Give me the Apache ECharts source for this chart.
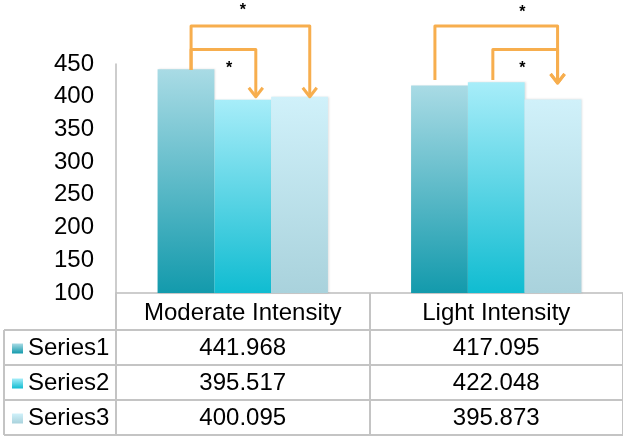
<!DOCTYPE html>
<html>
<head>
<meta charset="utf-8">
<script src="https://cdn.jsdelivr.net/npm/echarts@6/dist/echarts.min.js"></script>
<style>
  html, body { margin: 0; padding: 0; background: #ffffff; }
  #chart { width: 623px; height: 436px; }
</style>
</head>
<body>
<div id="chart"></div>
<script>
// ---- data ----
const categories = ['Moderate Intensity', 'Light Intensity'];
const seriesNames = ['Series1', 'Series2', 'Series3'];
const series1 = [441.968, 417.095];
const series2 = [395.517, 422.048];
const series3 = [400.095, 395.873];
const yMin = 100;
const yMax = 450;
const yStep = 50;

// significance brackets: [category, from slot, to slot, bracket level, start level, arrow tip level]
// slots are counted in bar widths from the left edge of a category's bar group
const brackets = [
  [0, 0.59, 2.68, 508, 441, 400],
  [0, 0.59, 1.73, 472, 441, 400],
  [1, 0.42, 2.58, 508, 425.5, 421],
  [1, 1.44, 2.58, 472, 425.5, 421]
];
// asterisks: [category, slot, level]
const stars = [
  [0, 1.50, 532],
  [0, 1.26, 443],
  [1, 1.96, 528],
  [1, 1.96, 443]
];

// ---- styling ----
const FONT = '"Liberation Sans", Arial, Helvetica, sans-serif';
const BAR_FRAC = 0.224;
const ORANGE = '#F7AE4E';
const GRID_LINE = '#C4C4C4';
const barColors = [
  ['#A9DBE5', '#139AAC'],
  ['#A7EDF9', '#10BCD1'],
  ['#D0F1FA', '#A9D2DC']
];
const values = [series1, series2, series3];

function grad(c) {
  return new echarts.graphic.LinearGradient(0, 0, 0, 1, [
    { offset: 0, color: c[0] },
    { offset: 1, color: c[1] }
  ]);
}

const chart = echarts.init(document.getElementById('chart'), null, { renderer: 'canvas' });

const barSeries = seriesNames.map((name, i) => ({
  name: name,
  type: 'bar',
  data: values[i],
  barWidth: (BAR_FRAC * 100) + '%',
  barGap: '0%',
  itemStyle: {
    color: grad(barColors[i]),
    shadowColor: 'rgba(0,0,0,0.12)',
    shadowBlur: 2,
    shadowOffsetX: 1
  },
  emphasis: { disabled: true },
  silent: true,
  z: 2
}));

function groupLeft(api, cat) {
  const band = api.size([1, 0])[0];
  const bw = band * BAR_FRAC;
  const cx = api.coord([cat, yMin])[0];
  return { left: cx - 1.5 * bw, bw: bw };
}

const bracketSeries = {
  type: 'custom',
  name: 'brackets',
  data: brackets,
  encode: { x: 0, y: 3 },
  silent: true,
  clip: false,
  z: 5,
  renderItem: function (params, api) {
    const cat = api.value(0);
    const g = groupLeft(api, cat);
    const x1 = g.left + api.value(1) * g.bw;
    const x2 = g.left + api.value(2) * g.bw;
    const yTop = api.coord([cat, api.value(3)])[1];
    const yStart = api.coord([cat, api.value(4)])[1];
    const yTip = api.coord([cat, api.value(5)])[1];
    const st = { stroke: ORANGE, lineWidth: 3, fill: null, lineJoin: 'round', lineCap: 'butt' };
    return {
      type: 'group',
      children: [
        { type: 'polyline', shape: { points: [[x1, yStart], [x1, yTop], [x2, yTop], [x2, yTip]] }, style: st },
        { type: 'polyline', shape: { points: [[x2 - 7, yTip - 9], [x2, yTip], [x2 + 7, yTip - 9]] }, style: st }
      ]
    };
  }
};

const starSeries = {
  type: 'custom',
  name: 'stars',
  data: stars,
  encode: { x: 0, y: 2 },
  silent: true,
  clip: false,
  z: 6,
  renderItem: function (params, api) {
    const cat = api.value(0);
    const g = groupLeft(api, cat);
    const x = g.left + api.value(1) * g.bw;
    const y = api.coord([cat, api.value(2)])[1];
    return {
      type: 'text',
      x: x,
      y: y,
      style: {
        text: '*',
        fontSize: 16,
        fontWeight: 'bold',
        fontFamily: FONT,
        fill: '#000',
        align: 'center',
        verticalAlign: 'middle'
      }
    };
  }
};

// table rows under the category axis: header + one line per series
const tableRich = {
  h: { fontSize: 24, lineHeight: 35, color: '#000', fontFamily: FONT },
  v: { fontSize: 24, lineHeight: 35, color: '#000', fontFamily: FONT }
};

const option = {
  animation: false,
  backgroundColor: '#ffffff',
  textStyle: { fontFamily: FONT },
  grid: { left: 116, right: -2, top: 64, bottom: 143 },
  legend: {
    data: seriesNames,
    orient: 'vertical',
    left: 12,
    top: 331,
    padding: 0,
    itemGap: 0,
    itemWidth: 11,
    itemHeight: 10,
    icon: 'rect',
    selectedMode: false,
    textStyle: { fontSize: 24, lineHeight: 35, color: '#000', fontFamily: FONT }
  },
  xAxis: {
    type: 'category',
    data: categories,
    axisLine: { show: true, lineStyle: { color: '#BDBDBD', width: 1.5 } },
    axisTick: { show: true, length: 142, lineStyle: { color: GRID_LINE, width: 2 } },
    axisLabel: {
      interval: 0,
      margin: 3,
      formatter: function (value, index) {
        const lines = ['{h|' + value + '}'];
        values.forEach(arr => lines.push('{v|' + arr[index].toFixed(3) + '}'));
        return lines.join('\n');
      },
      rich: tableRich
    },
    splitLine: { show: false }
  },
  yAxis: {
    type: 'value',
    min: yMin,
    max: yMax,
    interval: yStep,
    axisLine: { show: true, lineStyle: { color: '#BDBDBD', width: 1.5 } },
    axisTick: { show: false },
    splitLine: { show: false },
    axisLabel: { margin: 22, fontSize: 24, color: '#000', fontFamily: FONT, padding: [5, 0, 0, 0] }
  },
  graphic: [
    // table row rules and left border
    ...[330, 365, 400, 435].map(y => ({
      type: 'line', silent: true, z: 10,
      shape: { x1: 4, y1: y, x2: 623, y2: y },
      style: { stroke: GRID_LINE, lineWidth: 2 }
    })),
    {
      type: 'line', silent: true, z: 10,
      shape: { x1: 4, y1: 330, x2: 4, y2: 435 },
      style: { stroke: GRID_LINE, lineWidth: 2 }
    }
  ],
  series: [...barSeries, bracketSeries, starSeries]
};

chart.setOption(option);
</script>
</body>
</html>
